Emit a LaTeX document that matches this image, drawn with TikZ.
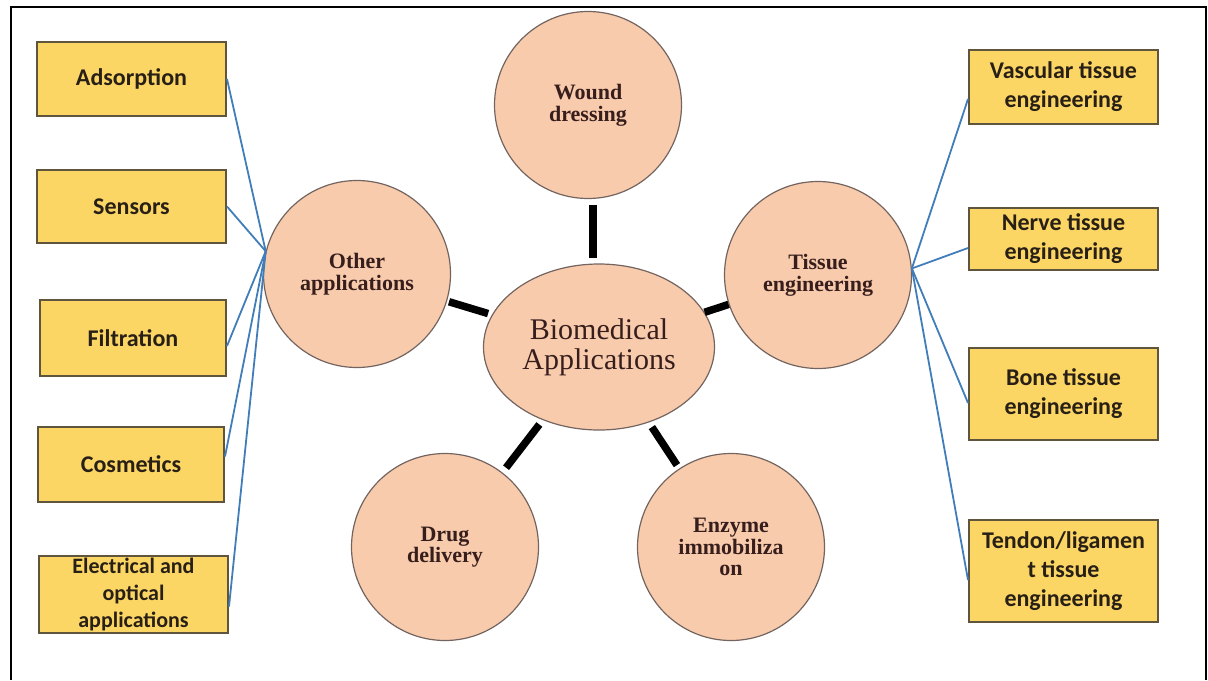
\documentclass[tikz,border=0pt]{standalone}
\usepackage{fontspec}
\setmainfont{Liberation Serif}
\newfontfamily\boxfont{Carlito}
\usetikzlibrary{shapes.geometric}
\definecolor{boxfill}{RGB}{252,214,100}
\definecolor{boxline}{RGB}{95,85,60}
\definecolor{circfill}{RGB}{248,203,173}
\definecolor{circline}{RGB}{115,100,95}
\definecolor{bluel}{RGB}{65,125,185}
\definecolor{circtext}{RGB}{55,30,28}
\definecolor{boxtext}{RGB}{40,32,22}
\begin{document}
\begin{tikzpicture}[x=0.5pt,y=-0.5pt,
  appbox/.style={draw=boxline, line width=1pt, fill=boxfill, inner sep=0pt, align=center,
    font=\boxfont\bfseries\fontsize{12}{14.5}\selectfont, text=boxtext},
  topic/.style={circle, draw=circline, line width=0.6pt, fill=circfill, minimum size=93.5pt,
    inner sep=0pt, align=center, font=\bfseries\fontsize{11}{10.8}\selectfont, text=circtext},
  hub/.style={ellipse, draw=circline, line width=0.6pt, fill=circfill, minimum width=115.5pt,
    minimum height=83pt, inner sep=0pt, align=center, font=\fontsize{15}{15}\selectfont, text=circtext},
  spoke/.style={line width=3.75pt, black, shorten <=2.75pt, shorten >=2.75pt},
  leaf/.style={draw=bluel, line width=0.9pt}]

\useasboundingbox (0,0) rectangle (1208,680);
\draw[line width=1pt] (11,680) -- (11,7) -- (1206,7) -- (1206,680);

% hub and topics
\node[hub] (hub) at (599,347) {Biomedical\\Applications};
\node[topic] (wound) at (588,105) {Wound\\dressing};
\node[topic] (other) at (357,274) {Other\\applications};
\node[topic] (tissue) at (818,275) {Tissue\\engineering};
\node[topic] (drug) at (445,547) {Drug\\delivery};
\node[topic] (enzyme) at (731,547) {Enzyme\\immobiliza\\on};

% left boxes
\node[appbox, minimum width=94.5pt, minimum height=37pt] (ads) at (131.5,79) {Adsorption};
\node[appbox, minimum width=94.5pt, minimum height=36.5pt] (sens) at (131.5,206.5) {Sensors};
\node[appbox, minimum width=93pt, minimum height=38pt] (filt) at (133,338) {Filtration};
\node[appbox, minimum width=93pt, minimum height=37.5pt] (cosm) at (131,464.5) {Cosmetics};
\node[appbox, minimum width=94.5pt, minimum height=38.5pt,
  font=\boxfont\bfseries\fontsize{11}{13.5}\selectfont] (elec) at (133.5,594.5) {Electrical and\\optical\\applications};

% right boxes
\node[appbox, minimum width=94.5pt, minimum height=37pt] (vasc) at (1063.5,87) {Vascular tissue\\engineering};
\node[appbox, minimum width=94.5pt, minimum height=31pt] (nerve) at (1063.5,239) {Nerve tissue\\engineering};
\node[appbox, minimum width=94.5pt, minimum height=46pt] (bone) at (1063.5,394) {Bone tissue\\engineering};
\node[appbox, minimum width=94.5pt, minimum height=51pt] (tendon) at (1063.5,571) {Tendon/ligamen\\t tissue\\engineering};

% spokes
\draw[spoke] ([xshift=2.5pt]wound.south) -- ([xshift=-3pt]hub.north);
\draw[spoke, shorten <=1pt, shorten >=2pt] (other) -- (hub);
\draw[spoke, shorten <=0pt, shorten >=0pt] (tissue) -- (hub);
\draw[spoke, shorten <=3pt] (drug) -- (hub);
\draw[spoke, shorten <=2pt] (enzyme) -- (hub);

% left leaves
\draw[leaf] (ads.east) -- (other.166.6);
\draw[leaf] (sens.east) -- (other.166.6);
\draw[leaf] ([yshift=-4pt]filt.east) -- (other.166.6);
\draw[leaf] ([yshift=4pt]cosm.east) -- (other.166.6);
\draw[leaf] ([yshift=-6pt]elec.east) -- (other.166.6);

% right leaves
\draw[leaf] ([yshift=-6pt]vasc.west) -- (tissue.4);
\draw[leaf] ([yshift=-4.5pt]nerve.west) -- (tissue.4);
\draw[leaf] ([yshift=-4.5pt]bone.west) -- (tissue.4);
\draw[leaf] ([yshift=-4.5pt]tendon.west) -- (tissue.4);
\end{tikzpicture}
\end{document}
